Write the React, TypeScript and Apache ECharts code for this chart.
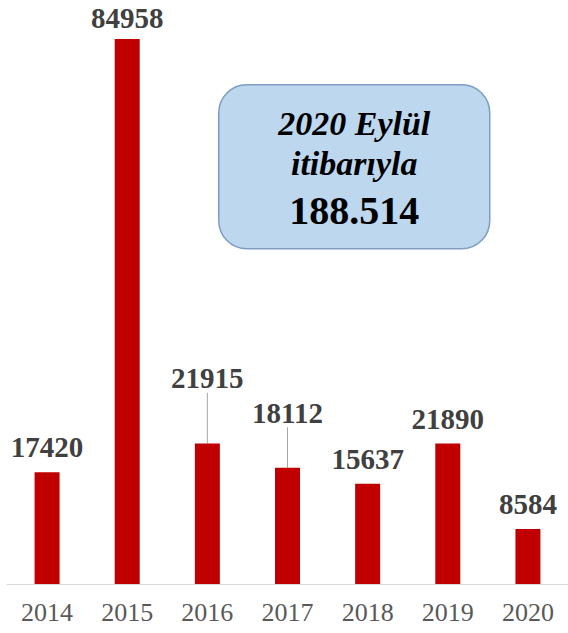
import React, { useEffect, useRef } from "react";
import * as echarts from "echarts";

const years = ["2014", "2015", "2016", "2017", "2018", "2019", "2020"];
const values = [17420, 84958, 21915, 18112, 15637, 21890, 8584];
const boxLines = ["2020 Eylül", "itibarıyla", "188.514"];

// extra upward shift (px) for labels that carry a leader line
const labelShift: Record<number, number> = { 2: -40, 3: -30 };
// labels kept a little closer to their bar so they stay inside the page
const labelDistance: Record<number, number> = { 1: 9 };

const SERIF = "Liberation Serif";

export default function App() {
  const ref = useRef<HTMLDivElement>(null);
  useEffect(() => {
    if (!ref.current) return;
    const chart = echarts.init(ref.current, null, { renderer: "svg" });
    chart.setOption({
      animation: false,
      backgroundColor: "#ffffff",
      grid: { left: 7, width: 564, top: 6.6, bottom: 49, containLabel: false },
      xAxis: {
        type: "category",
        data: years,
        axisLine: { show: true, lineStyle: { color: "#d9d9d9", width: 1 } },
        axisTick: { show: false },
        axisLabel: {
          color: "#595959",
          fontFamily: SERIF,
          fontSize: 26,
          margin: 15,
        },
      },
      yAxis: {
        type: "value",
        min: 0,
        max: 90000,
        show: false,
        splitLine: { show: false },
      },
      series: [
        {
          type: "bar",
          data: values.map((v, i) => ({
            value: v,
            labelLine: { show: labelShift[i] !== undefined },
            ...(labelDistance[i] !== undefined
              ? { label: { distance: labelDistance[i] } }
              : {}),
          })),
          barWidth: 25,
          itemStyle: { color: "#c00000" },
          label: {
            show: true,
            position: "top",
            distance: 13,
            color: "#404040",
            fontFamily: SERIF,
            fontWeight: "bold",
            fontSize: 29,
            lineHeight: 24,
          },
          labelLine: { show: false, lineStyle: { color: "#a6a6a6", width: 1 } },
          labelLayout: (params: any) =>
            labelShift[params.dataIndex] !== undefined
              ? { dy: labelShift[params.dataIndex] }
              : {},
        },
      ],
      graphic: [
        {
          type: "group",
          left: 218,
          top: 84,
          children: [
            {
              type: "rect",
              shape: { x: 0, y: 0, width: 271, height: 164, r: 28 },
              style: { fill: "#bdd7ee", stroke: "#7f9cc4", lineWidth: 1.5 },
            },
            {
              type: "text",
              x: 135.5,
              y: 39,
              style: {
                text: boxLines[0],
                fill: "#000000",
                fontFamily: SERIF,
                fontStyle: "italic",
                fontWeight: "bold",
                fontSize: 34,
                textAlign: "center",
                textVerticalAlign: "middle",
              },
            },
            {
              type: "text",
              x: 135.5,
              y: 79,
              style: {
                text: boxLines[1],
                fill: "#000000",
                fontFamily: SERIF,
                fontStyle: "italic",
                fontWeight: "bold",
                fontSize: 34,
                textAlign: "center",
                textVerticalAlign: "middle",
              },
            },
            {
              type: "text",
              x: 135.5,
              y: 126,
              style: {
                text: boxLines[2],
                fill: "#000000",
                fontFamily: SERIF,
                fontWeight: "bold",
                fontSize: 40,
                textAlign: "center",
                textVerticalAlign: "middle",
              },
            },
          ],
        },
      ],
    });
    return () => chart.dispose();
  }, []);
  return (
    <div
      ref={ref}
      style={{ position: "fixed", left: 0, top: 0, width: 568, height: 633 }}
    />
  );
}
